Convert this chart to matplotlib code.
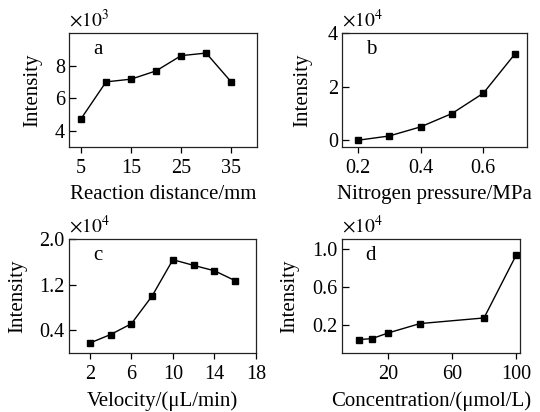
import matplotlib
matplotlib.use("Agg")
import matplotlib.pyplot as plt

plt.rcParams['font.family'] = ['Liberation Serif', 'DejaVu Serif']
plt.rcParams['mathtext.fontset'] = 'stix'

# panel a: reaction distance
a_x = [5, 10, 15, 20, 25, 30, 35]
a_y = [4.72, 7.0, 7.17, 7.68, 8.62, 8.78, 7.0]
a_ticks = [5, 15, 25, 35]

# panel b: nitrogen pressure
b_x = [0.2, 0.3, 0.4, 0.5, 0.6, 0.7]
b_y = [0.0, 0.16, 0.5, 1.0, 1.76, 3.22]
b_ticks = [0.2, 0.4, 0.6]

# panel c: velocity
c_x = [2, 4, 6, 8, 10, 12, 14, 16]
c_y = [0.17, 0.32, 0.51, 1.0, 1.64, 1.54, 1.445, 1.27]
c_ticks = [2, 6, 10, 14, 18]

# panel d: concentration
d_x = [2, 10, 20, 40, 80, 100]
d_y = [0.04, 0.05, 0.11, 0.21, 0.27, 0.935]
d_ticks = [20, 60, 100]

W, H = 540, 412
fig = plt.figure(figsize=(W / 100, H / 100), dpi=100)


def box(left, top, right, bottom):
    return [left / W, (H - bottom) / H, (right - left) / W, (bottom - top) / H]


def panel(rect, x, y, letter, xlabel, xticks, yticks, yfmt, xlim, ylim, expo, ylab_x):
    ax = fig.add_axes(rect)
    ax.plot(x, y, color='black', lw=1.0, marker='s', ms=5, mfc='black', mec='black')
    ax.set_xlim(*xlim)
    ax.set_ylim(*ylim)
    ax.set_xticks(xticks)
    ax.set_xticklabels([str(t) for t in xticks])
    ax.set_yticks(yticks)
    ax.set_yticklabels([yfmt.format(t) for t in yticks])
    ax.tick_params(axis='x', direction='out', length=4, width=0.9, labelsize=14.5, pad=5)
    ax.tick_params(axis='y', direction='in', length=5, width=0.9, labelsize=14.5, pad=3)
    for s in ax.spines.values():
        s.set_linewidth(0.9)
        s.set_color('#222222')
    ax.set_xlabel(xlabel, fontsize=15, labelpad=5)
    ax.set_ylabel('Intensity', fontsize=15)
    ax.yaxis.set_label_coords(ylab_x, 0.5)
    ax.text(0.13, 0.86, letter, transform=ax.transAxes, fontsize=15,
            ha='left', va='center')
    ax.text(0.0, 1.02, r'$\times10^{%d}$' % expo, transform=ax.transAxes,
            fontsize=14, ha='left', va='bottom')
    return ax


panel(box(69, 33.3, 256.7, 146.7), a_x, a_y, 'a', 'Reaction distance/mm',
      a_ticks, [4, 6, 8], '{:d}', (2.6, 40.1), (3.0, 10.0), 3, -0.144)
panel(box(342.3, 33.3, 526.7, 146.7), b_x, b_y, 'b', 'Nitrogen pressure/MPa',
      b_ticks, [0, 2, 4], '{:d}', (0.151, 0.738), (-0.24, 4.0), 4, -0.164)
panel(box(69, 239.3, 256, 352.7), c_x, c_y, 'c', 'Velocity/(\u03bcL/min)',
      c_ticks, [0.4, 1.2, 2.0], '{:.1f}', (0, 18), (0.0, 2.0), 4, -0.225)
panel(box(341.7, 239.3, 520, 352.7), d_x, d_y, 'd', 'Concentration/(\u03bcmol/L)',
      d_ticks, [0.2, 0.6, 1.0], '{:.1f}', (-9, 102.5), (-0.10, 1.107), 4, -0.24)

fig.savefig('out.png', dpi=100)
